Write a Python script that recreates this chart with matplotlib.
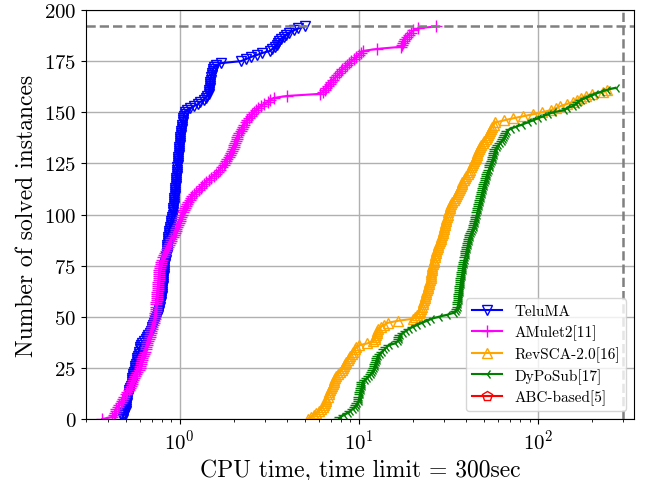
import numpy as np
import matplotlib
matplotlib.use("Agg")
import matplotlib.pyplot as plt

plt.rcParams['font.family'] = 'serif'
plt.rcParams['font.serif'] = ['cmr10']
plt.rcParams['mathtext.fontset'] = 'cm'
plt.rcParams['axes.formatter.use_mathtext'] = True
plt.rcParams['axes.unicode_minus'] = False

# sorted solve times (sec) per solver
teluma = [
    0.48, 0.48, 0.49, 0.49, 0.50, 0.50, 0.50, 0.505, 0.51, 0.51,
    0.51, 0.515, 0.52, 0.52, 0.525, 0.53, 0.535, 0.54, 0.54, 0.545,
    0.545, 0.55, 0.55, 0.555, 0.56, 0.56, 0.565, 0.57, 0.575, 0.58,
    0.58, 0.585, 0.59, 0.595, 0.60, 0.60, 0.61, 0.62, 0.635, 0.65,
    0.66, 0.67, 0.68, 0.69, 0.70, 0.705, 0.71, 0.72, 0.73, 0.74,
    0.75, 0.755, 0.76, 0.765, 0.77, 0.775, 0.78, 0.785, 0.79, 0.79,
    0.795, 0.795, 0.80, 0.80, 0.80, 0.805, 0.805, 0.81, 0.81, 0.81,
    0.815, 0.815, 0.815, 0.82, 0.82, 0.82, 0.825, 0.83, 0.835, 0.84,
    0.845, 0.845, 0.85, 0.85, 0.855, 0.855, 0.86, 0.86, 0.865, 0.865,
    0.87, 0.87, 0.875, 0.88, 0.885, 0.89, 0.895, 0.90, 0.905, 0.91,
    0.914, 0.918, 0.92, 0.922, 0.925, 0.928, 0.93, 0.932, 0.935, 0.938,
    0.94, 0.942, 0.945, 0.948, 0.95, 0.952, 0.955, 0.958, 0.96, 0.962,
    0.965, 0.967, 0.97, 0.972, 0.975, 0.977, 0.98, 0.982, 0.985, 0.987,
    0.99, 0.992, 0.995, 0.997, 1.0, 1.002, 1.005, 1.008, 1.01, 1.012,
    1.015, 1.02, 1.025, 1.03, 1.035, 1.04, 1.045, 1.05, 1.06, 1.065,
    1.07, 1.1, 1.15, 1.2, 1.27, 1.3, 1.36, 1.4, 1.43, 1.45,
    1.46, 1.465, 1.47, 1.475, 1.48, 1.485, 1.49, 1.5, 1.51, 1.52,
    1.53, 1.54, 1.56, 1.6, 1.7, 2.2, 2.35, 2.5, 2.7, 2.9,
    3.2, 3.3, 3.4, 3.5, 3.55, 3.6, 3.7, 3.85, 3.95, 4.1,
    4.35, 4.6, 5.0,
]
amulet2 = [
    0.37, 0.42, 0.43, 0.435, 0.44, 0.44, 0.45, 0.46, 0.47, 0.475,
    0.48, 0.49, 0.50, 0.51, 0.52, 0.53, 0.535, 0.54, 0.545, 0.55,
    0.553, 0.56, 0.57, 0.58, 0.59, 0.598, 0.60, 0.605, 0.61, 0.615,
    0.62, 0.625, 0.63, 0.64, 0.645, 0.65, 0.655, 0.66, 0.67, 0.675,
    0.68, 0.685, 0.69, 0.695, 0.70, 0.705, 0.71, 0.715, 0.72, 0.725,
    0.725, 0.73, 0.73, 0.735, 0.735, 0.74, 0.74, 0.74, 0.745, 0.745,
    0.745, 0.75, 0.75, 0.755, 0.755, 0.76, 0.76, 0.76, 0.765, 0.765,
    0.765, 0.77, 0.77, 0.77, 0.775, 0.775, 0.785, 0.79, 0.80, 0.81,
    0.82, 0.83, 0.84, 0.85, 0.86, 0.87, 0.88, 0.89, 0.90, 0.915,
    0.93, 0.94, 0.95, 0.96, 0.97, 0.98, 0.99, 1.0, 1.01, 1.02,
    1.03, 1.04, 1.06, 1.07, 1.08, 1.1, 1.12, 1.14, 1.16, 1.18,
    1.21, 1.24, 1.28, 1.31, 1.34, 1.36, 1.4, 1.45, 1.5, 1.55,
    1.6, 1.64, 1.68, 1.72, 1.76, 1.79, 1.82, 1.85, 1.88, 1.91,
    1.94, 1.96, 1.98, 2.0, 2.02, 2.04, 2.06, 2.08, 2.1, 2.13,
    2.16, 2.19, 2.22, 2.26, 2.3, 2.34, 2.39, 2.44, 2.5, 2.55,
    2.6, 2.67, 2.75, 2.83, 2.95, 3.1, 3.2, 3.35, 4.0, 6.1,
    6.3, 6.45, 6.6, 6.75, 6.9, 7.0, 7.2, 7.4, 7.6, 7.8,
    7.95, 8.1, 8.35, 8.6, 8.85, 9.1, 9.4, 9.7, 10.0, 10.3,
    10.6, 12.7, 17.2, 17.4, 17.6, 17.8, 18.2, 18.6, 19.1, 19.6,
    20.2, 21.4, 27.0,
]
revsca = [
    5.2, 5.4, 5.6, 5.8, 6.0, 6.2, 6.3, 6.4, 6.5, 6.55,
    6.6, 6.7, 6.8, 6.85, 6.9, 7.0, 7.1, 7.2, 7.25, 7.3,
    7.4, 7.5, 7.7, 7.9, 8.05, 8.2, 8.3, 8.4, 8.5, 8.7,
    8.85, 9.0, 9.15, 9.3, 9.5, 9.7, 10.0, 11.2, 12.1, 12.3,
    12.4, 12.5, 12.6, 12.7, 12.8, 13.3, 13.8, 14.5, 16.5, 20.0,
    20.7, 21.2, 21.6, 21.9, 22.2, 22.5, 22.8, 23.0, 23.2, 23.4,
    23.6, 23.8, 23.9, 24.1, 24.3, 24.4, 24.6, 24.8, 25.0, 25.2,
    25.3, 25.4, 25.5, 25.6, 25.7, 25.8, 26.0, 26.2, 26.4, 26.6,
    26.8, 27.0, 27.2, 27.4, 27.6, 27.8, 28.1, 28.4, 28.7, 29.0,
    29.2, 29.4, 29.6, 29.8, 30.0, 30.2, 30.4, 30.6, 30.8, 31.1,
    31.4, 31.7, 32.0, 32.3, 32.5, 32.9, 33.4, 33.9, 34.4, 34.9,
    35.3, 35.7, 36.2, 36.7, 37.2, 37.6, 38.0, 38.6, 39.3, 40.0,
    40.6, 41.3, 41.9, 42.5, 43.0, 43.5, 44.1, 44.6, 45.1, 45.6,
    46.0, 46.5, 46.9, 47.6, 48.5, 49.3, 50.2, 51.2, 52.0, 52.7,
    53.4, 54.0, 54.6, 55.7, 56.8, 58.0, 64.5, 72.5, 82.7, 93.7,
    106, 118, 126, 134, 145, 157, 165, 174, 186, 200,
    230, 245,
]
dyposub = [
    7.75, 7.9, 8.3, 8.7, 9.0, 9.3, 9.5, 9.7, 9.85, 10.0,
    10.05, 10.1, 10.15, 10.2, 10.3, 10.35, 10.4, 10.45, 10.5, 10.8,
    11.1, 11.4, 11.7, 11.9, 12.1, 12.2, 12.3, 12.4, 12.5, 12.6,
    12.7, 12.8, 13.1, 13.5, 13.9, 14.3, 14.7, 16.0, 16.5, 16.7,
    16.8, 17.0, 17.6, 18.3, 19.0, 20.0, 21.2, 22.5, 24.0, 25.5,
    28.0, 31.3, 34.0, 34.8, 35.3, 35.7, 35.9, 36.1, 36.2, 36.3,
    36.4, 36.5, 36.6, 36.7, 36.8, 37.0, 37.1, 37.2, 37.3, 37.5,
    37.7, 37.9, 38.0, 38.1, 38.3, 38.4, 38.6, 38.8, 39.0, 39.3,
    39.6, 39.8, 40.0, 40.2, 40.5, 40.7, 40.9, 41.1, 41.3, 41.7,
    42.1, 42.5, 42.9, 43.3, 43.8, 44.1, 44.4, 44.8, 45.1, 45.4,
    45.7, 46.0, 46.3, 46.6, 46.9, 47.2, 47.5, 47.8, 48.1, 48.4,
    48.7, 49.0, 49.3, 49.6, 50.0, 50.4, 50.8, 51.2, 51.5, 51.9,
    52.3, 52.8, 53.3, 53.8, 54.3, 54.8, 55.4, 56.0, 56.4, 56.8,
    57.2, 57.6, 58.0, 59.0, 60.2, 61.5, 62.8, 64.2, 65.1, 66.0,
    66.8, 67.6, 70.6, 76.0, 82.0, 88.0, 94.0, 100, 107, 114,
    122, 140, 146, 157, 163, 168, 174, 185, 198, 210,
    225, 245, 272,
]
abc_based = []  # no instance solved within the limit

total_instances = 192
time_limit = 300

solvers = [
    ('TeluMA', teluma, 'blue', 'v'),
    ('AMulet2[11]', amulet2, 'magenta', '+'),
    ('RevSCA-2.0[16]', revsca, 'orange', '^'),
    ('DyPoSub[17]', dyposub, 'green', '3'),
    ('ABC-based[5]', abc_based, 'red', 'p'),
]

fig = plt.figure(figsize=(6.45, 4.81), dpi=100)
ax = fig.add_axes([0.1333, 0.1268, 0.8497, 0.8503])

for name, times, color, mk in solvers:
    y = np.arange(len(times))
    if mk in ('+', '3'):
        ax.plot(times, y, '-', color=color, marker=mk, markersize=8, label=name)
    else:
        ax.plot(times, y, '-', color=color, marker=mk, markersize=7,
                markerfacecolor='none', label=name)

ax.axhline(total_instances, color='gray', linestyle='--', linewidth=1.8)
ax.axvline(time_limit, color='gray', linestyle='--', linewidth=1.8)

ax.set_xscale('log')
ax.set_xlim(0.30, 345)
ax.set_ylim(0, 200)
ax.set_yticks(np.arange(0, 201, 25))
ax.grid(True, which='major', color='#b0b0b0', linewidth=1)
ax.tick_params(labelsize=15)

ax.set_xlabel('CPU time, time limit = 300sec', fontsize=17)
ax.set_ylabel('Number of solved instances', fontsize=17)
ax.legend(loc='lower right', fontsize=11, labelspacing=0.4)

fig.savefig('out.png', dpi=100)
